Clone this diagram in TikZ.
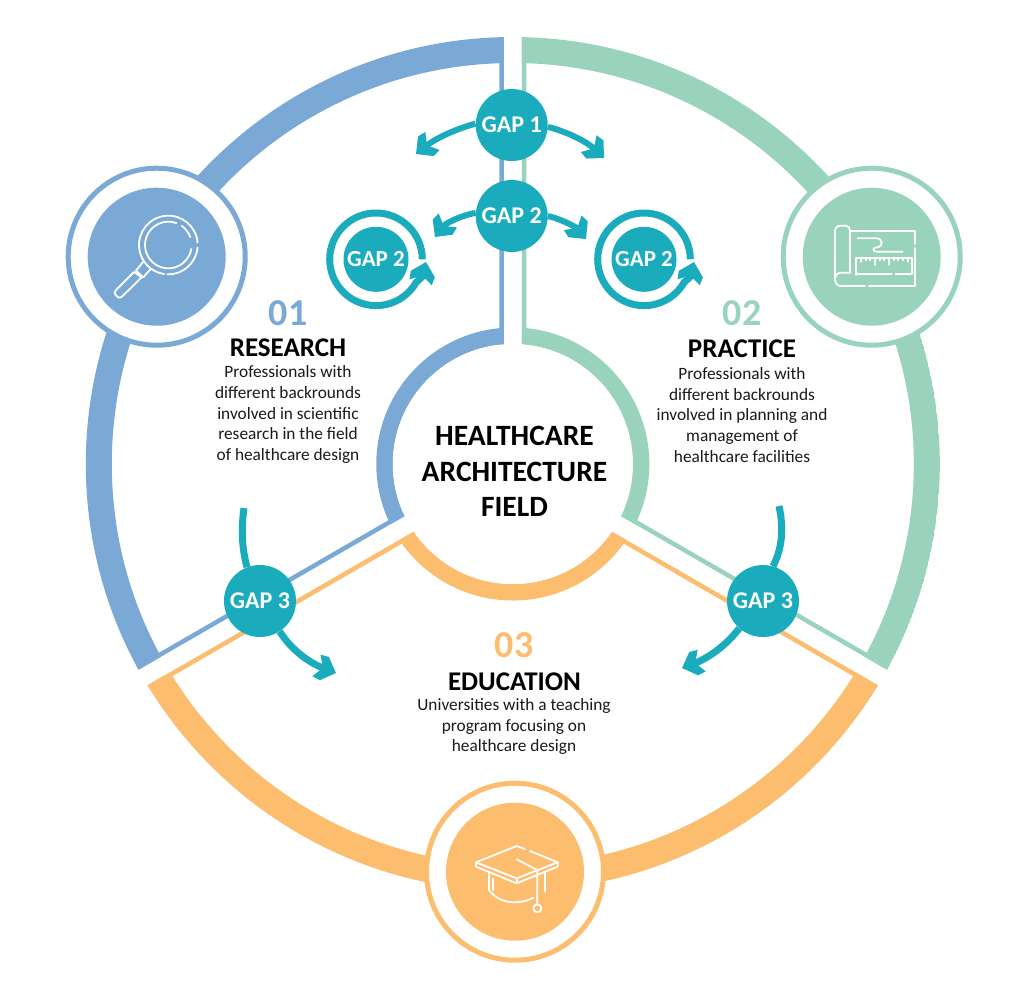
\documentclass[tikz,border=0pt]{standalone}
\usepackage{fontspec}
\setmainfont{Carlito}
\usetikzlibrary{arrows.meta}
\definecolor{cblue}{HTML}{7AA9D6}
\definecolor{cgreen}{HTML}{9AD3BC}
\definecolor{corange}{HTML}{FDBD6F}
\definecolor{cteal}{HTML}{1AABBD}
\definecolor{ctext}{HTML}{1A1A1A}
\pgfdeclarearrow{
  name=GapHead,
  setup code={%
    \pgfarrowssettipend{0pt}%
    \pgfarrowssetlineend{-14pt}%
    \pgfarrowssetvisualbackend{-21pt}%
    \pgfarrowssetbackend{-21pt}%
    \pgfarrowshullpoint{0pt}{0pt}%
    \pgfarrowshullpoint{-12.5pt}{12.5pt}%
    \pgfarrowshullpoint{-21pt}{11.5pt}%
    \pgfarrowshullpoint{-12.5pt}{-12.5pt}%
    \pgfarrowshullpoint{-21pt}{-11.5pt}%
  },
  drawing code={%
    \pgfsetdash{}{0pt}%
    \pgfpathmoveto{\pgfqpoint{0pt}{0pt}}%
    \pgfpathlineto{\pgfqpoint{-12.5pt}{12.5pt}}%
    \pgfpathlineto{\pgfqpoint{-21pt}{11.5pt}}%
    \pgfpathlineto{\pgfqpoint{-14pt}{0pt}}%
    \pgfpathlineto{\pgfqpoint{-21pt}{-11.5pt}}%
    \pgfpathlineto{\pgfqpoint{-12.5pt}{-12.5pt}}%
    \pgfpathclose
    \pgfusepathqfill
  },
}
\tikzset{
  gapnode/.style={circle,fill=cteal,minimum size=72pt,inner sep=0pt,text=white,font=\bfseries\fontsize{24}{26}\selectfont},
  smallgap/.style={gapnode,minimum size=65pt,font=\bfseries\fontsize{23}{26}\selectfont},
  ringouter/.style={circle,draw=#1,line width=5pt,fill=white,minimum size=177pt,inner sep=0pt},
  ringinner/.style={circle,fill=#1,minimum size=138pt,inner sep=0pt},
  numlabel/.style={font=\bfseries\fontsize{38}{40}\selectfont,text=#1,inner sep=0pt},
  headlabel/.style={font=\bfseries\fontsize{27}{29}\selectfont,text=black,inner sep=0pt},
  desclabel/.style={font=\fontsize{17.3}{20.8}\selectfont,text=ctext,align=center,inner sep=0pt},
  fieldlabel/.style={font=\bfseries\fontsize{29.5}{35.5}\selectfont,text=black,align=center,inner sep=0pt},
  gapflow/.style={draw=cteal,line width=6pt},
  gaparrow/.style={gapflow,-{GapHead}},
  iconline/.style={draw=white,line width=1.8pt,line cap=round,line join=round},
}
\newcommand{\sectorshape}[2]{%
  \begin{scope}[shift={(C)}]
    \clip (#2:10.4) -- +(#2-60:700) -- +(#2:1212) -- +(#2+60:700) -- cycle;
    \clip (0,0) circle (427);
    \fill[#1,even odd rule] (0,0) circle (427) (0,0) circle (401) (0,0) circle (136.5) (0,0) circle (120);
    \draw[#1,line width=9pt] (#2:10.4) -- +(#2-60:700) (#2:10.4) -- +(#2+60:700);
  \end{scope}}
\begin{document}
\begin{tikzpicture}[x=1pt,y=-1pt]
\useasboundingbox (0,0) rectangle (1024,989);
\fill[white] (0,0) rectangle (1024,989);
\coordinate (C) at (512.8,464);
\sectorshape{cblue}{210}
\sectorshape{cgreen}{-30}
\sectorshape{corange}{90}
\node[circle,fill=white,minimum size=240pt,inner sep=0pt] (hub) at (C) {};
\node[fieldlabel] (field) at (514.5,471.5) {HEALTHCARE\\ARCHITECTURE\\FIELD};

% icon discs
\node[ringouter=cblue] (ring1) at (156.7,256.7) {};
\node[ringinner=cblue] (disc1) at (ring1) {};
\node[ringouter=cgreen] (ring2) at (871.7,256.7) {};
\node[ringinner=cgreen] (disc2) at (ring2) {};
\node[ringouter=corange] (ring3) at (515,871.7) {};
\node[ringinner=corange] (disc3) at (ring3) {};

% magnifier
\begin{scope}[shift={(60,160)},x=0.3333pt,y=-0.3333pt,iconline]
  \draw (325,255) ++(-5:88) arc (-5:-262:88);
  \draw (325,255) ++(-268:88) arc (-268:-355:88);
  \draw (325,255) ++(-70:70) arc (-70:-350:70);
  \draw (325,255) ++(-55:70) arc (-55:-20:70) ;
  \draw (228,332) -- (250,305);
  \draw (272,327) -- (250,352);
  \draw (222,336) -- (172,386) .. controls (162,396) and (162,400) .. (170,408) .. controls (178,416) and (182,414) .. (190,406) -- (245,352) -- (222,336);
  \draw (228,332) -- (250,352);
\end{scope}

% blueprint
\begin{scope}[shift={(775,160)},x=0.3333pt,y=-0.3333pt,iconline]
  \draw (180,350) -- (180,215) .. controls (180,202) and (188,197) .. (198,197) -- (212,197) .. controls (220,197) and (225,204) .. (225,212) -- (225,338);
  \draw (225,338) -- (198,338) .. controls (188,338) and (180,346) .. (180,358) .. controls (180,370) and (188,378) .. (198,378) -- (270,378);
  \draw (282,378) -- (420,378) -- (420,264);
  \draw (420,252) -- (420,213) -- (228,213);
  \draw (248,235) -- (305,235) .. controls (325,235) and (325,262) .. (305,262) .. controls (292,262) and (292,275) .. (305,275) -- (383,275);
  \draw (243,345) -- (243,293) -- (412,293) -- (412,343) -- (362,343);
  \draw (243,343) -- (350,343);
  \foreach \tx/\tl in {258/12,272/8,286/8,300/22,314/8,328/8,342/22,356/8,370/8,384/8,398/12}
    {\draw (\tx,293) -- (\tx,293+\tl);}
\end{scope}

% cap
\begin{scope}[shift={(420,775)},x=0.3333pt,y=-0.3333pt,iconline]
  \draw (315,222) -- (290,213) -- (168,262) -- (168,275) -- (290,325) -- (413,275) -- (413,262) -- (330,228);
  \draw (168,262) -- (290,310) -- (413,262);
  \draw (290,310) -- (290,325);
  \draw (290,253) -- (352,285) -- (352,388);
  \draw (352,400) circle (12);
  \draw (207,295) -- (207,345) .. controls (235,385) and (295,392) .. (340,368);
  \draw (375,295) -- (375,350);
  \draw (218,310) -- (218,345);
\end{scope}

% text blocks
\node[numlabel=cblue] (n1) at (288,313) {01};
\node[headlabel] (h1) at (288,348) {RESEARCH};
\node[desclabel] (d1) at (288,414.5) {Professionals with\\different backrounds\\involved in scientific\\research in the field\\of healthcare design};
\node[numlabel=cgreen] (n2) at (742,313) {02};
\node[headlabel] (h2) at (742,349) {PRACTICE};
\node[desclabel] (d2) at (742,415) {Professionals with\\different backrounds\\involved in planning and\\management of\\healthcare facilities};
\node[numlabel=corange] (n3) at (514,645) {03};
\node[headlabel] (h3) at (514.5,682) {EDUCATION};
\node[desclabel] (d3) at (514,726.5) {Universities with a teaching\\program focusing on\\healthcare design};

% gap nodes
\node[gapnode] (g1) at (511.7,125) {GAP 1};
\node[gapnode] (g2) at (511.7,216) {GAP 2};
\node[smallgap] (g2l) at (376,259.3) {GAP 2};
\node[smallgap] (g2r) at (644,259.3) {GAP 2};
\node[gapnode] (g3l) at (260,601) {GAP 3};
\node[gapnode] (g3r) at (763,601) {GAP 3};

% free ends
\coordinate (t1l) at (416,154);
\coordinate (t1r) at (604,158);
\coordinate (t2l) at (435,237);
\coordinate (t2r) at (586,239);
\coordinate (s3l) at (244,508);
\coordinate (s3r) at (779,506);
\coordinate (t3l) at (336,673);
\coordinate (t3r) at (682,668);

\draw[gaparrow] (g1.178) .. controls (455,129) and (435,139) .. (t1l);
\draw[gaparrow] (g1.-3) .. controls (568,132) and (587,142) .. (t1r);
\draw[gaparrow] (g2.175) .. controls (459,216) and (445,224) .. (t2l);
\draw[gaparrow] (g2.0) .. controls (564,220) and (577,228) .. (t2r);
\draw[gapflow,line width=7pt] (s3l) .. controls (241,529) and (242,549) .. (g3l.111);
\draw[gapflow,line width=7pt] (s3r) .. controls (784,529) and (782,549) .. (g3r.74);
\draw[gaparrow,line width=7pt] (g3l.-57) .. controls (291,650) and (310,663) .. (t3l);
\draw[gaparrow,line width=7pt] (g3r.-131) .. controls (725,647) and (706,659) .. (t3r);

\draw[gaparrow,line width=7pt] ([shift={(0:46.3)}]g2l.center) arc (0:-330:46.3) -- ([shift={(46,17.7)}]g2l.center) -- ([shift={(50,2.7)}]g2l.center);
\draw[gaparrow,line width=7pt] ([shift={(0:46.3)}]g2r.center) arc (0:-330:46.3) -- ([shift={(46,17.7)}]g2r.center) -- ([shift={(50,2.7)}]g2r.center);
\end{tikzpicture}
\end{document}
